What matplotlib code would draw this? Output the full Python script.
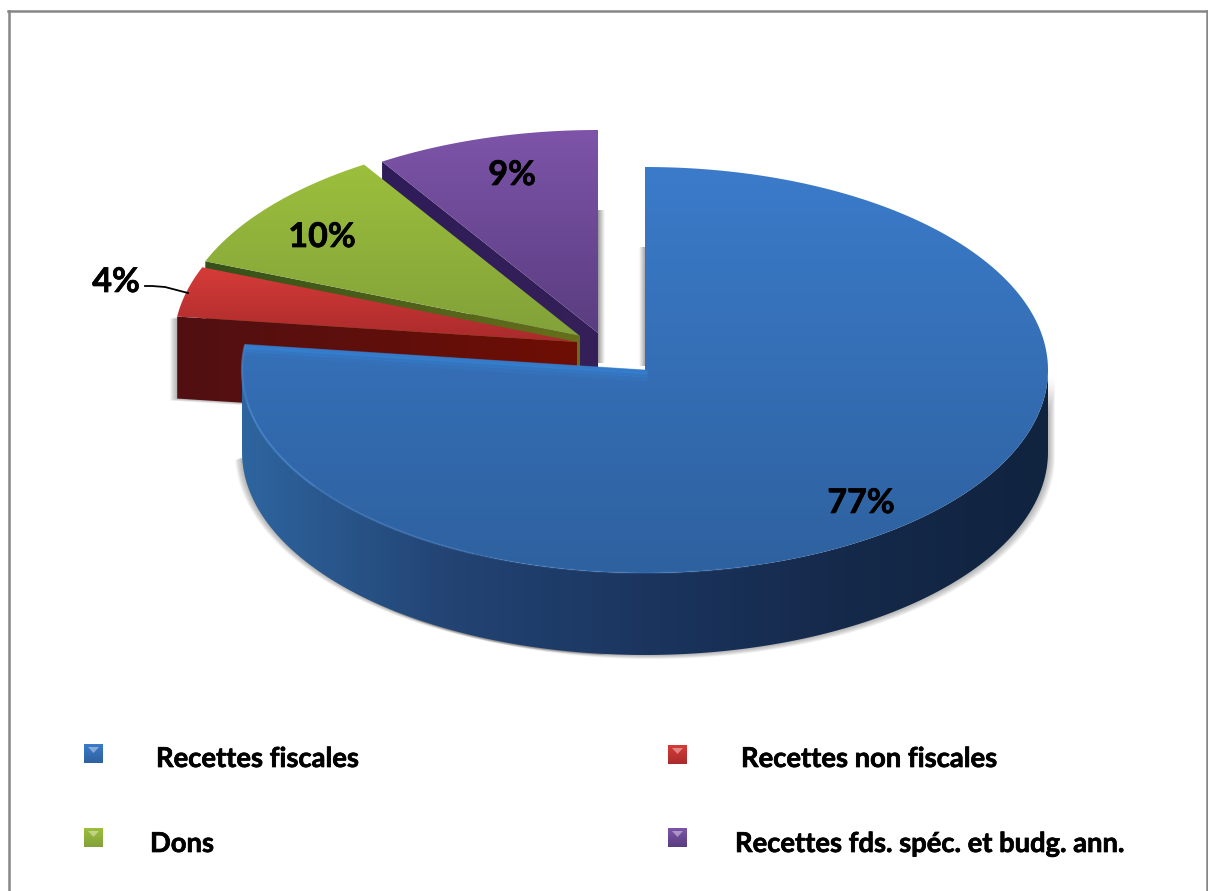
import numpy as np
import matplotlib
matplotlib.use('Agg')
import matplotlib.pyplot as plt
import matplotlib.patheffects as pe
from matplotlib.patches import Polygon
from matplotlib.colors import to_rgb

# shares of revenue, clockwise from twelve o'clock
categories = ['Recettes fiscales', 'Recettes non fiscales', 'Dons', 'Recettes fds. spéc. et budg. ann.']
shares = [77, 4, 10, 9]
pct_labels = ['77%', '4%', '10%', '9%']

# slice styling: top gradient, side gradient (left to right), exploded centre
top_colors = [('#3b7bca', '#2e619f'), ('#d63c38', '#a92a2c'), ('#9cbf3c', '#82a139'), ('#7d54a9', '#5a3d80')]
side_colors = [('#2e659f', '#234474', '#1b355f', '#15294a', '#10233f'),
               ('#511012', '#6e0e04'), ('#35501a', '#66701a'), ('#2f1c58', '#352058')]
centers = [(645, 370), (577, 342), (580, 336), (598, 333)]

RX, RY = 403, 203
DEPTH = 82

plt.rcParams['font.family'] = ['Lato', 'DejaVu Sans']
fig = plt.figure(figsize=(12.08, 8.91), dpi=100)
ax = fig.add_axes([0, 0, 1, 1])
ax.set_xlim(0, 1208)
ax.set_ylim(891, 0)
ax.axis('off')
heavy = [pe.withStroke(linewidth=0.5, foreground='black')]


def ell(center, a):
    # a in degrees clockwise from the top of the pie
    r = np.radians(a)
    return np.column_stack([center[0] + RX * np.sin(r), center[1] - RY * np.cos(r)])


def gradient(poly, stops, vertical=True, z=1):
    # fill a polygon with a linear gradient through evenly spread colours
    poly = np.asarray(poly)
    t = np.linspace(0, 1, 256)
    at = np.linspace(0, 1, len(stops))
    cols = np.array([to_rgb(s) for s in stops])
    rgb = np.column_stack([np.interp(t, at, cols[:, n]) for n in range(3)])
    img = rgb[:, None, :] if vertical else rgb[None, :, :]
    x0, y0 = poly.min(axis=0)
    x1, y1 = poly.max(axis=0)
    im = ax.imshow(img, extent=[x0, x1, y1, y0], aspect='auto', zorder=z, interpolation='bilinear')
    p = Polygon(poly, closed=True, transform=ax.transData, fc='none', ec='none')
    ax.add_patch(p)
    im.set_clip_path(p)
    ax.set_xlim(0, 1208)
    ax.set_ylim(891, 0)


def soft_shadow(poly, dx, dy, z, steps=7):
    # stacked translucent copies make a small drop shadow
    poly = np.asarray(poly)
    for i in range(steps, 0, -1):
        off = np.array([dx * i / steps, dy * i / steps])
        ax.add_patch(Polygon(poly + off, closed=True, fc='#555555', ec='none', alpha=0.07, zorder=z))


# slice angles from the shares
edges = np.concatenate([[0], np.cumsum(shares)]) * 360 / sum(shares)

# back slices are painted first so the nearer ones cover them
z = 3
for i in [3, 2, 1]:
    c = centers[i]
    a = np.linspace(edges[i], edges[i + 1], 80)
    arc = ell(c, a)
    top = np.vstack([[c], arc])
    # side wall under the radial edge facing the viewer
    start = arc[0]
    wall = np.array([c, start, start + [0, DEPTH], np.array(c) + [0, DEPTH]])
    if i == 1:
        soft_shadow(wall, -7, 2, z)
    if i == 3:
        # shadow falling off the right hand cut of the slice
        strip = np.array([[c[0], 210], [c[0] + 7, 210], [c[0] + 7, 363], [c[0], 363]])
        gradient(strip, ['#9a9a9a', '#ffffff'], vertical=False, z=z)
    gradient(wall, side_colors[i], vertical=False, z=z + 1)
    gradient(top, top_colors[i], z=z + 2)
    z += 3

# main slice, front wall first; the wall only runs round the near half
c = centers[0]
a = np.linspace(edges[0], edges[1], 300)
arc = ell(c, a)
top = np.vstack([[c], arc])
front = ell(c, np.linspace(90, 270, 200))
wall = np.vstack([front, front[::-1] + [0, DEPTH]])
soft_shadow(wall, 7, 4, z)
lower_left = ell(c, np.linspace(185, 268, 60)) + [0, DEPTH]
soft_shadow(np.vstack([lower_left, [[330, 420]]]), -7, 1, z)
strip = np.array([[c[0] - 6, 247], [c[0], 247], [c[0], 366], [c[0] - 6, 366]])
gradient(strip, ['#ffffff', '#a8a8a8'], vertical=False, z=z)

# side wall darkens from left to right
gradient(wall, side_colors[0], vertical=False, z=z + 1)
gradient(top, top_colors[0], z=z + 2)

# pale highlight on the left rim and along the cut edge
for lo, hi, alpha in [(235, edges[1], 0.6), (205, 235, 0.35), (165, 205, 0.18)]:
    rim = ell(c, np.linspace(lo, hi, 40))
    ax.plot(rim[:, 0], rim[:, 1], color='#4a8ad4', lw=1.6, alpha=alpha, zorder=z + 2.5, solid_capstyle='butt')
cut = ell(c, edges[1])[0]
for off, alpha in [(2, 0.6), (5, 0.35), (9, 0.18)]:
    ax.plot([cut[0] + 2, c[0]], [cut[1] + off, c[1] + off], color='#3684d6', lw=3.5, alpha=alpha, zorder=z + 2.4)

# percent labels
label_pos = [(861, 503), (116, 282), (322, 237), (512, 175)]
for t, (x, y) in zip(pct_labels, label_pos):
    ax.text(x, y, t, fontsize=24.5, fontweight='bold', color='black', ha='center', va='center', zorder=30,
            path_effects=heavy)

# leader line of the small slice
ax.plot([145, 152, 165, 188], [286, 286, 287, 293], color='black', lw=1.3, zorder=30)

# legend, two columns by two rows
swatch_pos = [(84, 744), (668, 745), (84, 828), (668, 828)]
text_pos = [(156, 759), (741, 759), (150, 844), (735, 844)]
for k, (sx, sy), (tx, ty) in zip(range(4), swatch_pos, text_pos):
    box = np.array([[sx, sy], [sx + 19, sy], [sx + 19, sy + 19], [sx, sy + 19]])
    gradient(box, top_colors[k], z=30)
    glint = np.array([[sx + 4, sy + 3], [sx + 15, sy + 3], [sx + 9.5, sy + 9]])
    ax.add_patch(Polygon(glint, closed=True, fc='white', ec='none', alpha=0.4, zorder=31))
    ax.text(tx, ty, categories[k], fontsize=19.7, fontweight='bold', color='black', ha='left', va='center',
            zorder=31, path_effects=heavy)

# chart frame, open at the bottom
ax.plot([8.5, 8.5], [891, 11], color='#868686', lw=1.8, zorder=40)
ax.plot([8, 1207], [11, 11], color='#868686', lw=1.8, zorder=40)
ax.plot([1207, 1207], [11, 891], color='#868686', lw=1.8, zorder=40)

fig.savefig('out.png', dpi=100)
